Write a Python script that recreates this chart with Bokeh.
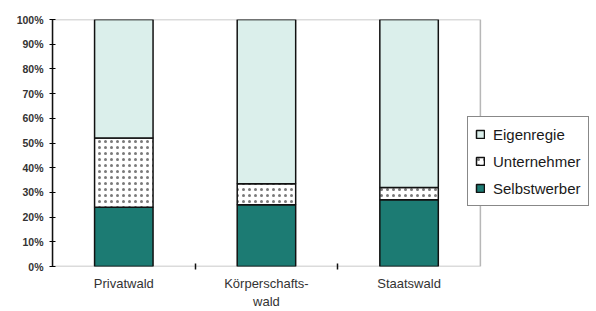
from bokeh.plotting import figure
from bokeh.models import (Legend, LegendItem, FixedTicker, NumeralTickFormatter, Range1d,
                          ColumnDataSource, BoxAnnotation)
from bokeh.embed import file_html
from bokeh.resources import INLINE

categories = ["Privatwald", "Körperschafts-\nwald", "Staatswald"]
selbstwerber = [0.24, 0.25, 0.27]
unternehmer = [0.28, 0.085, 0.05]
eigenregie = [0.48, 0.665, 0.68]
y_ticks = [0, 0.1, 0.2, 0.3, 0.4, 0.5, 0.6, 0.7, 0.8, 0.9, 1.0]

n = len(categories)
xpos = [i + 0.5 for i in range(n)]
src = ColumnDataSource(dict(x=xpos, Selbstwerber=selbstwerber,
                            Unternehmer=unternehmer, Eigenregie=eigenregie))

FONT = "Liberation Sans"

# extra room to the right of the category area holds the legend
p = figure(width=596, height=311, x_range=Range1d(0, n * 1.2667), y_range=Range1d(0, 1),
           output_backend="svg", toolbar_location=None,
           min_border_left=52, min_border_right=2, min_border_top=19, min_border_bottom=44)
p.outline_line_color = None
p.xgrid.grid_line_color = None
p.ygrid.grid_line_color = None

frame_box = BoxAnnotation(left=0, right=n, bottom=0, top=1, fill_alpha=0,
                          line_color="#111111", line_width=1.5)
p.add_layout(frame_box)

renderers = p.vbar_stack(["Selbstwerber", "Unternehmer", "Eigenregie"], x="x", width=0.41, source=src,
                         fill_color=["#1c7b73", "#ffffff", "#dbefeb"],
                         line_color="#111111", line_width=1.5,
                         hatch_pattern=[" ", ".", " "], hatch_color="#7a7a7a",
                         hatch_scale=6, hatch_weight=1)

legend = Legend(items=[LegendItem(label="Eigenregie", renderers=[renderers[2]]),
                       LegendItem(label="Unternehmer", renderers=[renderers[1]]),
                       LegendItem(label="Selbstwerber", renderers=[renderers[0]])],
                location=(415, 60), orientation="vertical",
                label_text_font=FONT, label_text_font_size="15px", label_text_color="#1a1a1a",
                glyph_width=10, glyph_height=10, label_height=20, spacing=7,
                padding=7, margin=0, label_standoff=8,
                border_line_color="#111111", border_line_width=1.2,
                background_fill_color="white", background_fill_alpha=1)
p.add_layout(legend, "center")

p.yaxis.ticker = FixedTicker(ticks=y_ticks)
p.yaxis.formatter = NumeralTickFormatter(format="0%")
p.yaxis.minor_tick_line_color = None
p.yaxis.major_tick_in = 3
p.yaxis.major_tick_out = 3
p.yaxis.major_label_standoff = 6
p.yaxis.major_label_text_font = FONT
p.yaxis.major_label_text_font_size = "10.5px"
p.yaxis.major_label_text_font_style = "bold"
p.yaxis.major_label_text_color = "#333333"
p.yaxis.axis_line_width = 1.5
p.yaxis.axis_line_color = "#111111"

p.xaxis.ticker = FixedTicker(ticks=xpos, minor_ticks=list(range(1, n)))
p.xaxis.major_label_overrides = {x: c for x, c in zip(xpos, categories)}
p.xaxis.axis_line_color = None
p.xaxis.major_tick_line_color = None
p.xaxis.minor_tick_line_color = "#111111"
p.xaxis.minor_tick_line_width = 1.5
p.xaxis.minor_tick_in = 3
p.xaxis.minor_tick_out = 3
p.xaxis.major_label_standoff = 3
p.xaxis.major_label_text_font = FONT
p.xaxis.major_label_text_font_size = "13px"
p.xaxis.major_label_text_color = "#333333"

open("out.html", "w").write(file_html(p, INLINE))
